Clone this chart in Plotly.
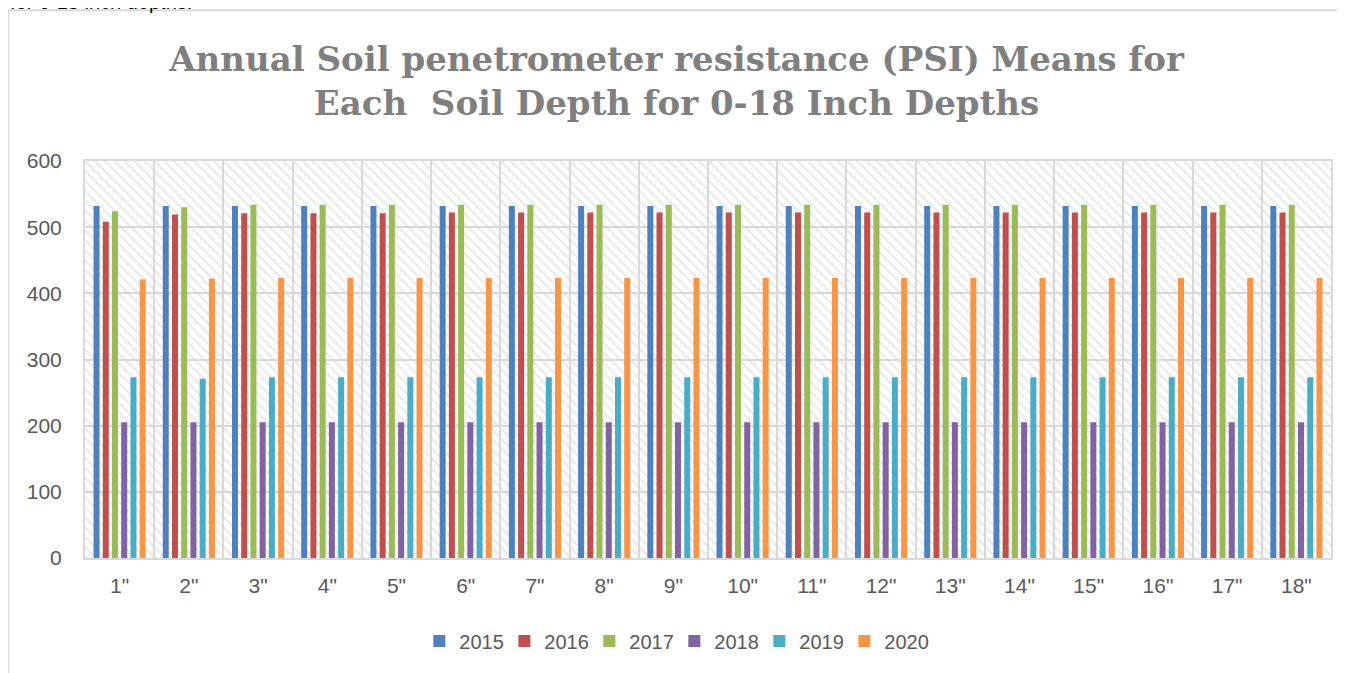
import plotly.graph_objects as go

DEPTHS = [f'{i}"' for i in range(1, 19)]
YEARS = ['2015', '2016', '2017', '2018', '2019', '2020']
COLORS = ['#4f81bd', '#c0504d', '#9bbb59', '#8064a2', '#4bacc6', '#f79646']

PSI_2015 = [532, 532, 532, 532, 532, 532, 532, 532, 532, 532, 532, 532, 532, 532, 532, 532, 532, 532]
PSI_2016 = [508, 519, 521, 521, 521, 522, 522, 522, 522, 522, 522, 522, 522, 522, 522, 522, 522, 522]
PSI_2017 = [524, 530, 534, 534, 534, 534, 534, 534, 534, 534, 534, 534, 534, 534, 534, 534, 534, 534]
PSI_2018 = [205, 205, 205, 205, 205, 205, 205, 205, 205, 205, 205, 205, 205, 205, 205, 205, 205, 205]
PSI_2019 = [273, 271, 273, 273, 273, 273, 273, 273, 273, 273, 273, 273, 273, 273, 273, 273, 273, 273]
PSI_2020 = [421, 422, 423, 423, 423, 423, 423, 423, 423, 423, 423, 423, 423, 423, 423, 423, 423, 423]
SERIES = [PSI_2015, PSI_2016, PSI_2017, PSI_2018, PSI_2019, PSI_2020]

Y_MAX = 600
GRID = '#d9d9d9'
TEXT = '#595959'
FONT = 'Liberation Sans'

fig = go.Figure()

# hatched plot-area background (Excel "wide downward diagonal" fill), drawn under the bars
fig.add_bar(
    x=DEPTHS,
    y=[Y_MAX] * len(DEPTHS),
    width=1,
    marker={
        'color': 'rgba(0,0,0,0)',
        'line': {'width': 0},
        'pattern': {'shape': '\\', 'fgcolor': '#d4d4d4', 'size': 7, 'solidity': 0.3},
    },
    showlegend=False,
    hoverinfo='skip',
)

for year, values, color in zip(YEARS, SERIES, COLORS):
    fig.add_bar(x=DEPTHS, y=values, name=year, xaxis='x2', yaxis='y2',
                marker={'color': color, 'line': {'width': 0}})

# page body has an 8px margin, so the div is 1337x665 starting at (8, 8)
fig.update_layout(
    width=1337,
    height=665,
    margin={'l': 77, 'r': 12, 't': 153, 'b': 115},
    paper_bgcolor='white',
    plot_bgcolor='white',
    barmode='group',
    bargap=0.2,
    bargroupgap=0.35,
    title={
        'text': 'Annual Soil penetrometer resistance (PSI) Means for<br>Each  Soil Depth for 0-18 Inch Depths',
        'x': 0.5,
        'xanchor': 'center',
        'y': 0.905,
        'yanchor': 'middle',
        'font': {'family': 'DejaVu Serif', 'size': 34, 'color': '#7f7f7f', 'weight': 'bold'},
    },
    font={'family': FONT, 'size': 21, 'color': TEXT},
    xaxis={
        'type': 'category',
        'showgrid': True,
        'gridcolor': GRID,
        'gridwidth': 2,
        'tickson': 'boundaries',
        'ticks': '',
        'showline': True,
        'linecolor': GRID,
        'linewidth': 2,
        'mirror': True,
        'ticklabelstandoff': 8,
        'tickfont': {'size': 21, 'color': TEXT},
    },
    yaxis={
        'range': [0, Y_MAX],
        'dtick': 100,
        'showgrid': True,
        'gridcolor': GRID,
        'gridwidth': 2,
        'zeroline': False,
        'showline': True,
        'linecolor': GRID,
        'linewidth': 2,
        'mirror': True,
        'ticks': '',
        'ticklabelstandoff': 17,
        'tickfont': {'size': 21, 'color': TEXT},
    },
    xaxis2={'type': 'category', 'overlaying': 'x', 'visible': False, 'matches': 'x'},
    yaxis2={'range': [0, Y_MAX], 'overlaying': 'y', 'visible': False},
    legend={
        'orientation': 'h',
        'x': 0.473,
        'xanchor': 'center',
        'y': -0.209,
        'yanchor': 'middle',
        'font': {'size': 20, 'color': TEXT},
        'itemwidth': 30,
        'entrywidth': 40,
        'traceorder': 'normal',
    },
    showlegend=True,
)

# chart frame (left and top edges) and the clipped document text above it
fig.add_shape(type='line', xref='paper', yref='paper', x0=-0.0617, x1=-0.0617, y0=-0.29, y1=1.38,
              line={'color': GRID, 'width': 2})
fig.add_shape(type='line', xref='paper', yref='paper', x0=-0.0617, x1=1.02, y0=1.38, y1=1.38,
              line={'color': GRID, 'width': 2})
fig.add_annotation(
    text='for 0-18 inch depths.',
    xref='paper', yref='paper', x=-0.062, y=1.40,
    xanchor='left', yanchor='middle', showarrow=False,
    font={'family': 'Liberation Sans', 'size': 20, 'color': '#000000'},
)

fig.write_html('out.html')
